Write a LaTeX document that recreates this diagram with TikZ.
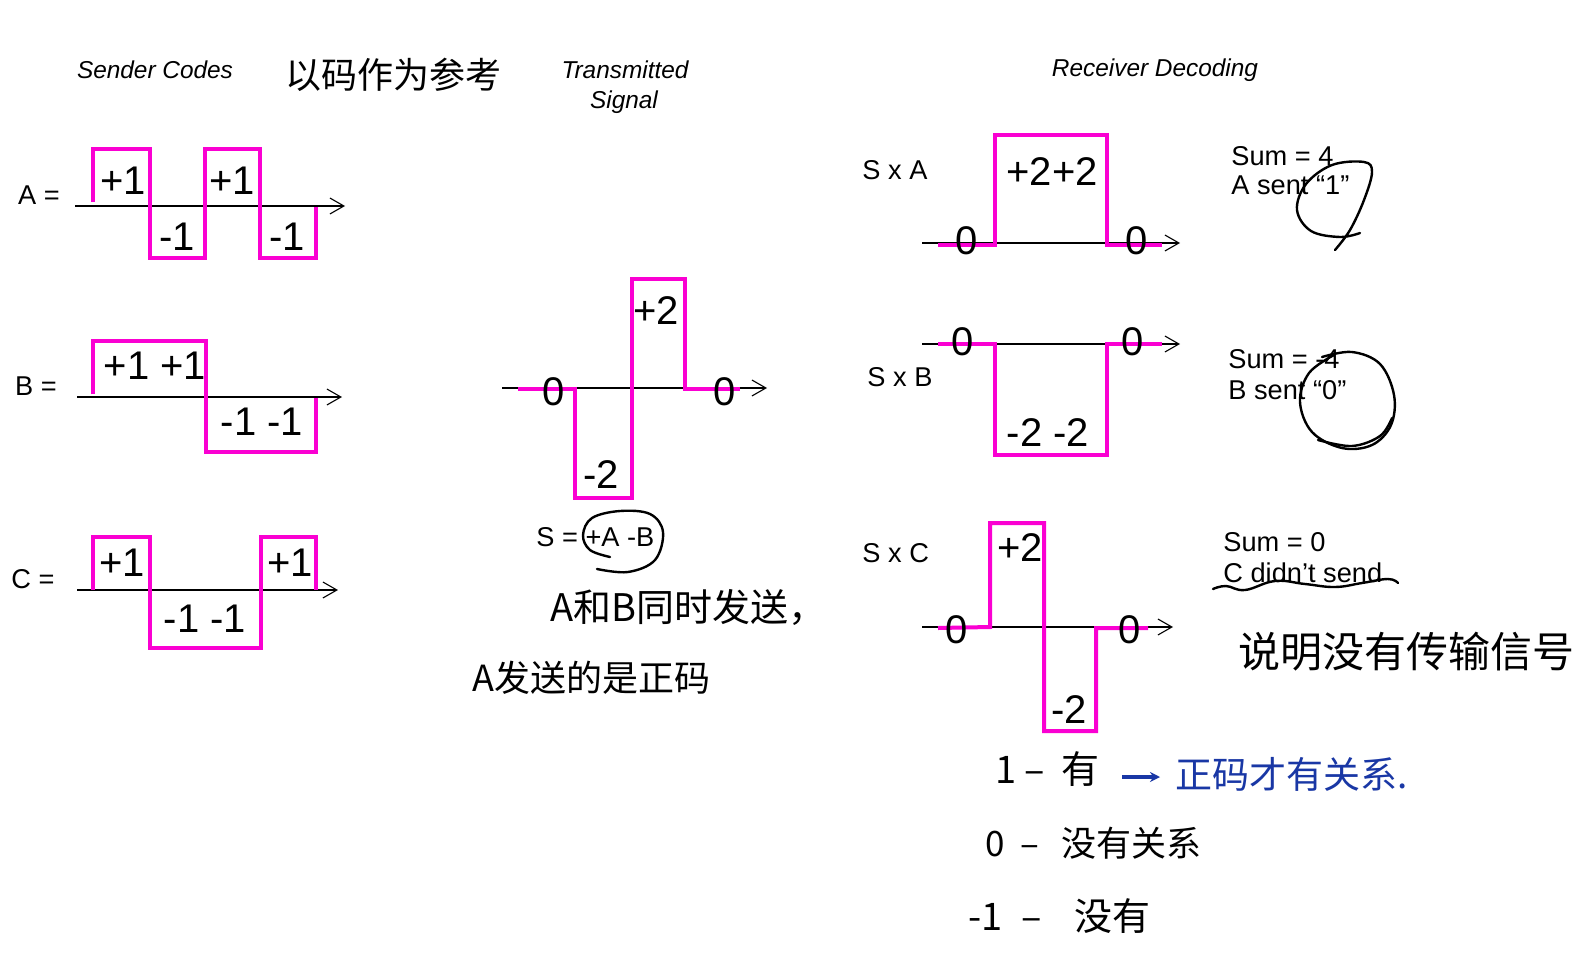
\documentclass[tikz,border=0pt]{standalone}
\usepackage{fontspec}
\setmainfont{Liberation Sans}
\newfontfamily\cjk{Noto Sans CJK SC}
\usetikzlibrary{arrows.meta}
\definecolor{sigpink}{RGB}{250,0,210}
\definecolor{inkblue}{RGB}{25,55,165}
\begin{document}
\begin{tikzpicture}[x=0.5pt,y=-0.5pt,
  lbl/.style={inner sep=0pt,text depth=0pt,font=\fontsize{13.6}{16}\selectfont},
  big/.style={inner sep=0pt,text depth=0pt,font=\fontsize{20}{24}\selectfont},
  hdr/.style={inner sep=0pt,text depth=0pt,font=\fontsize{12.2}{14}\selectfont\itshape},
  hand/.style={inner sep=0pt,text depth=0pt,anchor=west},
  wave/.style={draw=sigpink,line width=2pt,line join=miter},
  axis/.style={draw=black,line width=0.55pt,-{Straight Barb[length=7pt,width=8pt,line width=0.55pt]}},
  ink/.style={draw=black,line width=1.2pt,line cap=round,line join=round},
  bluearr/.style={draw=inkblue,line width=1.6pt,-{Stealth[length=5pt,width=5pt]}}]
\useasboundingbox[fill=white] (0,0) rectangle (1582,974);

% headers
\node[hdr] (hSender) at (155,70) {Sender Codes};
\node[hand,font=\cjk\fontsize{18}{20}\selectfont] (hRef) at (285,73) {以码作为参考};
\node[hdr] (hTrans1) at (625,70) {Transmitted};
\node[hdr] (hTrans2) at (624,100) {Signal};
\node[hdr] (hRecv) at (1155,68) {Receiver Decoding};

% ---- Sender A
\node[lbl] (Alab) at (39,195) {A =};
\coordinate (A0) at (75,206); \coordinate (A1) at (345,206);
\draw[axis] (A0) -- (A1);
\draw[wave] (93,202) |- (150,149) |- (205,258) |- (260,149) |- (316,258) -- (316,207);
\node[big] (Ap1) at (123,181) {+1};
\node[big] (Am1) at (177,237) {-1};
\node[big] (Ap2) at (232,181) {+1};
\node[big] (Am2) at (287,237) {-1};

% ---- Sender B
\node[lbl] (Blab) at (36,386) {B =};
\coordinate (B0) at (77,397); \coordinate (B1) at (342,397);
\draw[axis] (B0) -- (B1);
\draw[wave] (93,394) |- (206,341) |- (316,452) -- (316,398);
\node[big] (Bp) at (155,366) {+1 +1};
\node[big] (Bm) at (262,422) {-1 -1};

% ---- Sender C
\node[lbl] (Clab) at (33,579) {C =};
\coordinate (C0) at (77,590); \coordinate (C1) at (338,590);
\draw[axis] (C0) -- (C1);
\draw[wave] (93,590) |- (150,537) |- (261,648) |- (316,537) -- (316,590);
\node[big] (Cp1) at (122,563) {+1};
\node[big] (Cm) at (205,619) {-1 -1};
\node[big] (Cp2) at (290,563) {+1};

% ---- Transmitted signal
\coordinate (S0) at (502,388); \coordinate (S1) at (767,388);
\draw[axis] (S0) -- (S1);
\draw[wave] (518,389) -- (575,389) |- (632,498) |- (685,279) |- (740,389);
\node[big] (Sz1) at (554,392) {0};
\node[big] (Sz2) at (725,392) {0};
\node[big] (Sm) at (601,475) {-2};
\node[big] (Sp) at (656,311) {+2};
\node[lbl,anchor=west] (Seq) at (536,537) {S = +A -B};
\draw[ink] plot[smooth,tension=0.6] coordinates {(610,557) (590,550) (583,535) (592,518) (620,511) (650,514) (663,532) (655,560) (628,572) (597,569)};
\node[hand,font=\cjk\fontsize{19}{22}\selectfont] (note1) at (550,605) {A和B同时发送，};
\node[hand,font=\cjk\fontsize{18}{22}\selectfont] (note2) at (472,676) {A发送的是正码};

% ---- Receiver S x A
\node[lbl,anchor=west] (RAlab) at (862,170) {S x A};
\coordinate (RA0) at (922,243); \coordinate (RA1) at (1180,243);
\draw[axis] (RA0) -- (RA1);
\draw[wave] (938,245) -- (995,245) |- (1107,135) |- (1162,245);
\node[big] (RAz1) at (967,241) {0};
\node[big] (RAz2) at (1137,241) {0};
\node[big] (RAp) at (1052,172) {+2+2};
\node[lbl,anchor=west] (sumA) at (1231,156) {Sum = 4};
\node[lbl,anchor=west] (sentA) at (1231,185) {A sent “1”};
\draw[ink] plot[smooth,tension=0.6] coordinates {(1335,250) (1350,230) (1364,200) (1372,172) (1364,162) (1332,165) (1306,184) (1297,210) (1311,231) (1340,237) (1360,233)};

% ---- Receiver S x B
\node[lbl,anchor=west] (RBlab) at (867,377) {S x B};
\coordinate (RB0) at (922,344); \coordinate (RB1) at (1180,344);
\draw[axis] (RB0) -- (RB1);
\draw[wave] (938,344) -- (995,344) |- (1107,455) |- (1162,344);
\node[big] (RBz1) at (963,342) {0};
\node[big] (RBz2) at (1133,342) {0};
\node[big] (RBm) at (1048,433) {-2 -2};
\node[lbl,anchor=west] (sumB) at (1228,359) {Sum = -4};
\node[lbl,anchor=west] (sentB) at (1228,390) {B sent “0”};
\draw[ink] plot[smooth,tension=0.6] coordinates {(1322,357) (1352,352) (1380,364) (1394,395) (1391,425) (1372,445) (1342,448) (1312,432) (1300,402) (1309,373) (1334,355)};
\draw[ink] plot[smooth,tension=0.6] coordinates {(1318,440) (1352,446) (1380,436) (1392,418)};

% ---- Receiver S x C
\node[lbl,anchor=west] (RClab) at (862,553) {S x C};
\coordinate (RC0) at (922,627); \coordinate (RC1) at (1173,627);
\draw[axis] (RC0) -- (RC1);
\draw[wave] (938,628) -- (990,627) |- (1044,523) |- (1096,731) |- (1148,628);
\node[big] (RCz1) at (957,630) {0};
\node[big] (RCz2) at (1130,630) {0};
\node[big] (RCp) at (1020,548) {+2};
\node[big] (RCm) at (1069,710) {-2};
\node[lbl,anchor=west] (sumC) at (1223,542) {Sum = 0};
\node[lbl,anchor=west] (sentC) at (1223,573) {C didn’t send};
\draw[ink] plot[smooth,tension=0.7] coordinates {(1213,589) (1226,586) (1245,590) (1275,581) (1305,584) (1335,587) (1362,583) (1388,579) (1398,583)};
\node[hand,font=\cjk\fontsize{21}{24}\selectfont] (note3) at (1238,650) {说明没有传输信号};

% ---- bottom notes
\node[hand,font=\cjk\fontsize{19}{22}\selectfont] (key1) at (995,768) {1 –\hspace{4pt} 有};
\coordinate (barr0) at (1122,777); \coordinate (barr1) at (1160,777);
\draw[bluearr] (barr0) -- (barr1);
\node[hand,font=\cjk\fontsize{18.5}{22}\selectfont,text=inkblue] (keyblue) at (1175,773) {正码才有关系.};
\node[hand,font=\cjk\fontsize{17.5}{20}\selectfont] (key0) at (985,842) {0\hspace{4pt} –\hspace{7pt} 没有关系};
\node[hand,font=\cjk\fontsize{19}{22}\selectfont] (keym) at (968,915) {-1\hspace{5pt} –\hspace{12pt} 没有};
\end{tikzpicture}
\end{document}
